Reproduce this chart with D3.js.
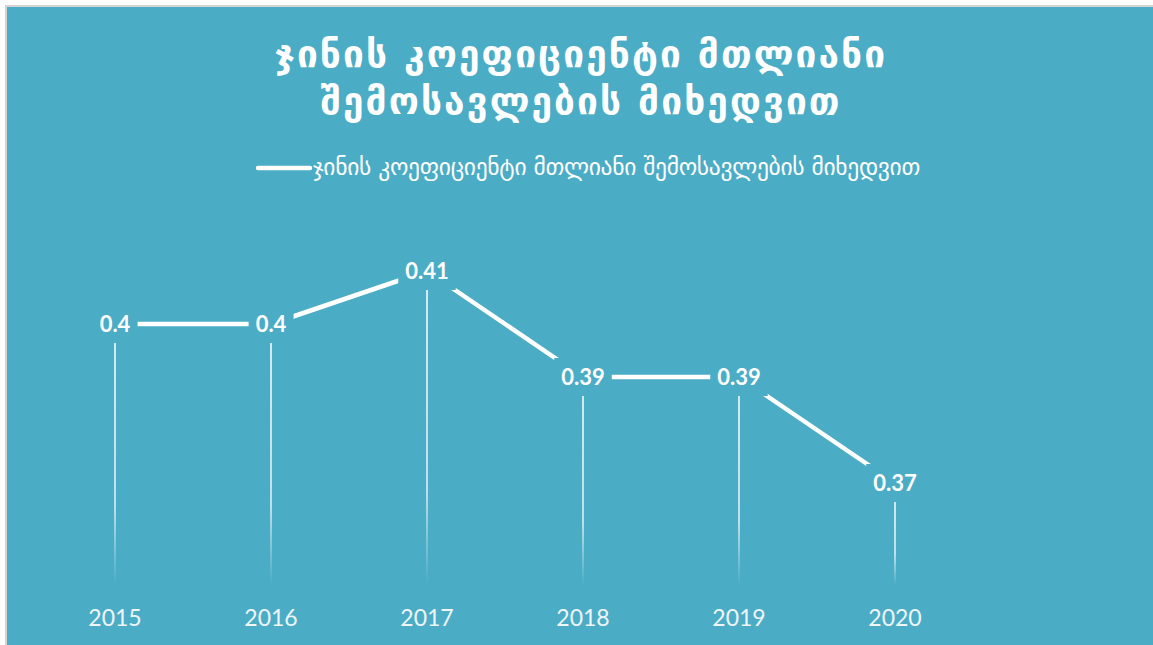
<!DOCTYPE html>
<html><head><meta charset="utf-8">
<script src="https://cdn.jsdelivr.net/npm/d3@7/dist/d3.min.js"></script>
<style>html,body{margin:0;padding:0;background:#fff;}svg{display:block;}</style>
</head><body>
<script>
const titleLines = ["ჯინის კოეფიციენტი მთლიანი", "შემოსავლების მიხედვით"];
const seriesName = "ჯინის კოეფიციენტი მთლიანი შემოსავლების მიხედვით";
const years = ["2015", "2016", "2017", "2018", "2019", "2020"];
const values = [0.40, 0.40, 0.41, 0.39, 0.39, 0.37];
const valueLabels = ["0.4", "0.4", "0.41", "0.39", "0.39", "0.37"];

const W = 1153, H = 645, BG = "#4BACC6";
const geo = "'DejaVu Sans', sans-serif";
const lat = "Lato, 'Open Sans', sans-serif";

const svg = d3.select("body").append("svg").attr("width", W).attr("height", H);
const defs = svg.append("defs");
const grad = defs.append("linearGradient").attr("id", "fade").attr("x1", 0).attr("y1", 0).attr("x2", 0).attr("y2", 1).attr("gradientUnits", "objectBoundingBox");
grad.append("stop").attr("offset", "0%").attr("stop-color", "#fff").attr("stop-opacity", 0.85);
grad.append("stop").attr("offset", "70%").attr("stop-color", "#fff").attr("stop-opacity", 0.7);
grad.append("stop").attr("offset", "100%").attr("stop-color", "#fff").attr("stop-opacity", 0);

svg.append("rect").attr("width", W).attr("height", H).attr("fill", "#fff");
svg.append("rect").attr("x", 5).attr("y", 5).attr("width", W - 5).attr("height", H - 5).attr("fill", "#d4d4d4");
svg.append("rect").attr("x", 7).attr("y", 7).attr("width", W - 7).attr("height", H - 7).attr("fill", BG);

const x = d3.scalePoint().domain(years).range([115, 895]);
const y = d3.scaleLinear().domain([0.35, 0.42]).range([589, 218]);

// Title
const tt = svg.append("text").attr("text-anchor", "middle").attr("fill", "#fff")
  .attr("font-family", geo).attr("font-weight", "bold").attr("font-size", 37).attr("letter-spacing", 2.1);
titleLines.forEach((t, i) => tt.append("tspan").attr("x", 581).attr("y", 67 + i * 47).text(t));

// Legend
svg.append("line").attr("x1", 258).attr("x2", 310).attr("y1", 168).attr("y2", 168)
  .attr("stroke", "#fff").attr("stroke-width", 4.5).attr("stroke-linecap", "round");
svg.append("text").attr("x", 313).attr("y", 175).attr("fill", "#fff")
  .attr("font-family", geo).attr("font-size", 23).attr("letter-spacing", -0.3)
  .attr("textLength", 607).attr("lengthAdjust", "spacingAndGlyphs").text(seriesName);

// Drop lines
const base = y(0.35) - 4;
svg.append("g").selectAll("rect").data(values).join("rect")
  .attr("x", (d, i) => x(years[i]) - 0.9).attr("width", 1.8)
  .attr("y", d => y(d)).attr("height", d => base - y(d))
  .attr("fill", "url(#fade)");

// Main line
const line = d3.line().x((d, i) => x(years[i])).y(d => y(d));
svg.append("path").datum(values).attr("d", line).attr("fill", "none")
  .attr("stroke", "#fff").attr("stroke-width", 4.5).attr("stroke-linejoin", "round");

// Data labels with masks
const lg = svg.append("g");
values.forEach((v, i) => {
  const cx = x(years[i]), cy = y(v);
  const t = lg.append("text").attr("x", cx).attr("y", cy + 8).attr("text-anchor", "middle")
    .attr("fill", "#fff").attr("font-family", lat).attr("font-weight", "bold").attr("font-size", 22)
    .text(valueLabels[i]);
  const bb = t.node().getBBox();
  lg.insert("rect", "text").attr("x", bb.x - 7).attr("y", cy - 19).attr("width", bb.width + 14).attr("height", 38).attr("fill", BG);
});

// X axis labels
svg.append("g").selectAll("text").data(years).join("text")
  .attr("x", d => x(d)).attr("y", 626).attr("text-anchor", "middle")
  .attr("fill", "#eef6f9").attr("font-family", lat).attr("font-size", 23).text(d => d);
</script>
</body></html>
